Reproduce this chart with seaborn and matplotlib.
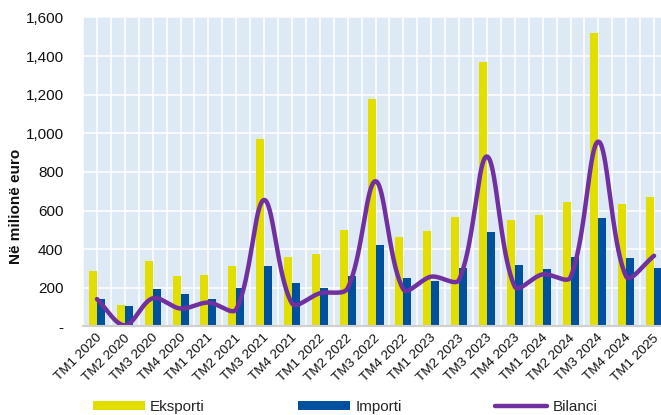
import numpy as np
import pandas as pd
import matplotlib
matplotlib.use("Agg")
import matplotlib.pyplot as plt
from matplotlib.patches import Patch
from matplotlib.lines import Line2D
from matplotlib.ticker import FuncFormatter, MultipleLocator
from matplotlib.transforms import ScaledTranslation
import seaborn as sns

# Quarterly trade figures, in millions of euro
quarters = ["TM1 2020", "TM2 2020", "TM3 2020", "TM4 2020",
            "TM1 2021", "TM2 2021", "TM3 2021", "TM4 2021",
            "TM1 2022", "TM2 2022", "TM3 2022", "TM4 2022",
            "TM1 2023", "TM2 2023", "TM3 2023", "TM4 2023",
            "TM1 2024", "TM2 2024", "TM3 2024", "TM4 2024",
            "TM1 2025"]
eksporti = [285, 113, 337, 262, 265, 311, 970, 362, 373, 497, 1177,
            465, 492, 566, 1367, 549, 575, 642, 1522, 633, 673]
importi = [143, 108, 192, 166, 140, 197, 314, 223, 200, 260, 423,
           250, 234, 304, 487, 316, 300, 358, 563, 356, 304]
bilanci = [142, 6, 146, 93, 124, 89, 655, 120, 172, 198, 752,
           192, 258, 242, 880, 206, 270, 255, 957, 258, 366]

series_names = ["Eksporti", "Importi", "Bilanci"]
c_exp = "#E1DE00"
c_imp = "#0050A0"
c_bal = "#7030A0"
c_bg = "#DDE9F5"

sns.set_theme(style="white")
plt.rcParams["font.family"] = ["Liberation Sans", "DejaVu Sans"]

df = pd.DataFrame({
    "quarter": quarters * 2,
    "value": eksporti + importi,
    "series": [series_names[0]] * len(quarters) + [series_names[1]] * len(quarters),
})

fig = plt.figure(figsize=(6.61, 4.15), dpi=100)
ax = fig.add_axes([0.1256, 0.2133, 0.885, 0.7446])
ax.set_facecolor(c_bg)
ax.set_axisbelow(True)

sns.barplot(data=df, x="quarter", y="value", hue="series",
            palette=[c_exp, c_imp], width=0.575, gap=0,
            linewidth=0, saturation=1, legend=False, ax=ax)

ax.set_xlim(-0.5, len(quarters) - 0.5)
ax.set_ylim(0, 1600)


def smooth_curve(y, sx, sy, samples=40):
    """Bezier smoothing through (index, value) points, with tangents
    scaled by neighbouring chord lengths measured in screen units."""
    pts = np.column_stack([np.arange(len(y), dtype=float) * sx,
                           np.asarray(y, dtype=float) * sy])
    n = len(pts)
    t = np.linspace(0, 1, samples)[:, None]
    out = []
    for i in range(n - 1):
        p0 = pts[max(i - 1, 0)]
        p1, p2 = pts[i], pts[i + 1]
        p3 = pts[min(i + 2, n - 1)]
        d01 = np.linalg.norm(p1 - p0)
        d12 = np.linalg.norm(p2 - p1)
        d23 = np.linalg.norm(p3 - p2)
        f1 = d12 / (d01 + d12) if d01 + d12 > 0 else 0
        f2 = d12 / (d12 + d23) if d12 + d23 > 0 else 0
        c1 = p1 + (p2 - p0) * f1 / 3
        c2 = p2 - (p3 - p1) * f2 / 3
        seg = ((1 - t) ** 3 * p1 + 3 * (1 - t) ** 2 * t * c1
               + 3 * (1 - t) * t ** 2 * c2 + t ** 3 * p2)
        out.append(seg if i == 0 else seg[1:])
    out = np.vstack(out)
    return out[:, 0] / sx, out[:, 1] / sy


# screen scale: pixels per category and per million euro
fig.canvas.draw()
bbox = ax.get_window_extent()
px_x = bbox.width / len(quarters)
px_y = bbox.height / 1600
lx, ly = smooth_curve(bilanci, px_x, px_y)
sns.lineplot(x=lx, y=ly, color=c_bal, linewidth=3.2, estimator=None,
             sort=False, ax=ax)

ax.set_xlim(-0.5, len(quarters) - 0.5)
ax.set_ylim(0, 1600)
ax.yaxis.set_major_locator(MultipleLocator(200))
ax.yaxis.set_major_formatter(
    FuncFormatter(lambda v, p: "-" if v == 0 else f"{int(v):,}"))
ax.set_xticks(range(len(quarters)))
ax.set_xticklabels(quarters)
ax.set_xticks(np.arange(-0.5, len(quarters), 0.5), minor=True)

ax.grid(True, which="major", axis="both", color="white", linewidth=1.1)
ax.grid(True, which="minor", axis="x", color="white", linewidth=1.1)

ax.tick_params(axis="y", length=0, pad=14, labelsize=11, labelcolor="#111111")
ax.tick_params(axis="x", which="both", length=0, pad=7, labelsize=9.7,
               labelcolor="#111111")
shift = ScaledTranslation(3 / 100, 0, fig.dpi_scale_trans)
for lab in ax.get_xticklabels():
    lab.set_rotation(45)
    lab.set_ha("right")
    lab.set_va("center")
    lab.set_rotation_mode("anchor")
    lab.set_transform(lab.get_transform() + shift)

for side in ["top", "right", "left"]:
    ax.spines[side].set_visible(False)
ax.spines["bottom"].set_color("#D0D0D0")
ax.spines["bottom"].set_linewidth(1.5)

ax.set_xlabel("")
ax.set_ylabel("Në milionë euro", fontsize=11, fontweight="bold", color="#111111")
ax.yaxis.set_label_coords(-0.103, 0.39)

handles = [Patch(facecolor=c_exp, edgecolor="none"),
           Patch(facecolor=c_imp, edgecolor="none"),
           Line2D([0], [0], color=c_bal, linewidth=3.2)]
fig.legend(handles, series_names, loc="center", bbox_to_anchor=(0.522, 0.02),
           ncol=3, frameon=False, fontsize=11, handlelength=3.4,
           handleheight=0.55, handletextpad=0.35, columnspacing=6.1)

fig.savefig("out.png", dpi=100)
